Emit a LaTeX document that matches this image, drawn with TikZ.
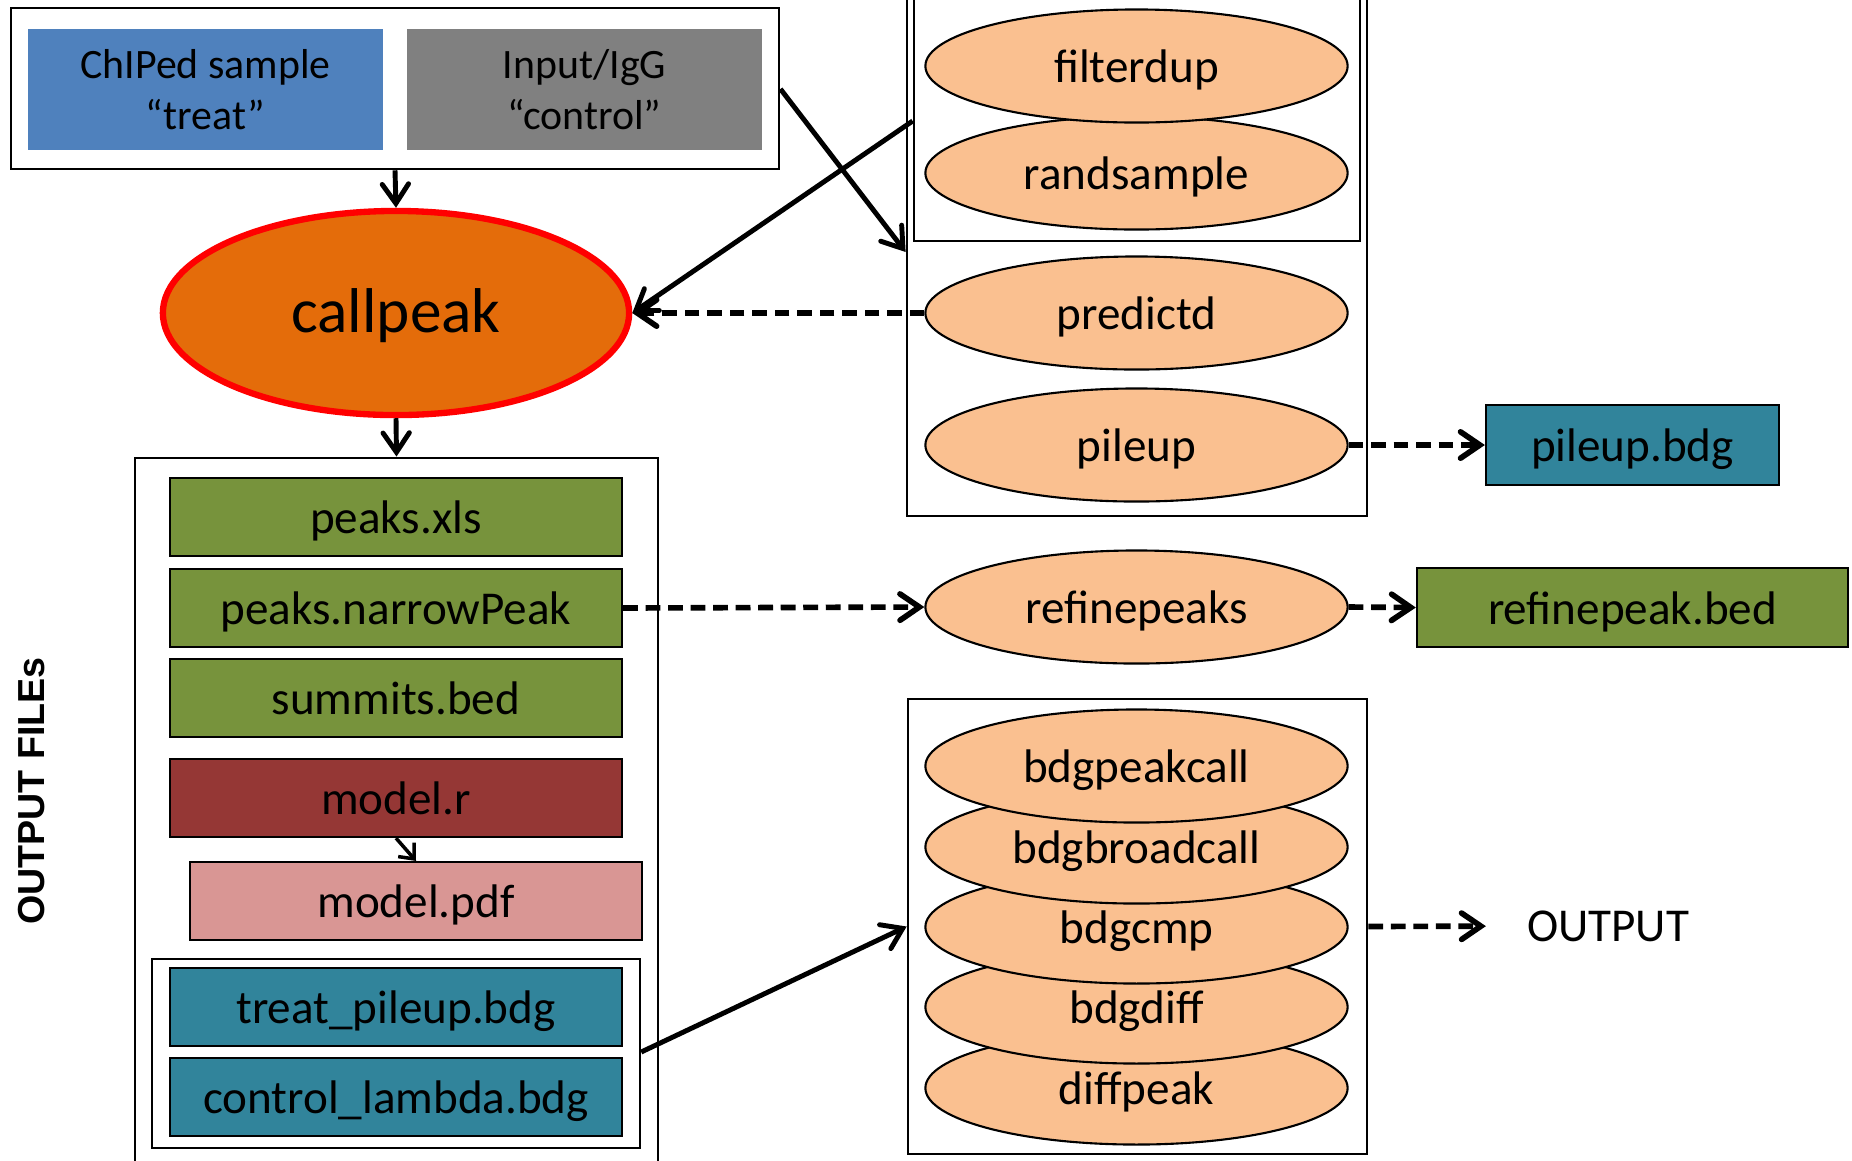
\documentclass[tikz,border=0pt]{standalone}
\usepackage{fontspec}
\setmainfont{Carlito}
\newfontfamily\boldsans{Liberation Sans}
\usetikzlibrary{shapes.geometric,arrows.meta}
\definecolor{cblue}{HTML}{4F81BD}
\definecolor{cgray}{HTML}{808080}
\definecolor{corange}{HTML}{E46C0A}
\definecolor{cred}{HTML}{FF0000}
\definecolor{cpeach}{HTML}{FAC090}
\definecolor{cgreen}{HTML}{77933C}
\definecolor{cdarkred}{HTML}{953735}
\definecolor{cpink}{HTML}{D99694}
\definecolor{cteal}{HTML}{31849B}
\tikzset{
  frame/.style={draw=black, line width=0.7pt, inner sep=0pt},
  filebox/.style={draw=black, line width=0.6pt, minimum width=4.52cm, minimum height=0.78cm, inner sep=0pt, text height=9.7pt, text depth=0.2pt, font=\fontsize{13.4}{16}\selectfont},
  inbox/.style={minimum width=3.55cm, minimum height=1.21cm, inner sep=0pt, align=center, font=\fontsize{11.9}{14.3}\selectfont},
  proc/.style={ellipse, draw=black, line width=0.6pt, fill=cpeach, minimum width=4.22cm, minimum height=1.13cm, inner sep=0pt, text height=9.7pt, text depth=0.2pt, font=\fontsize{13.4}{16}\selectfont},
  tip/.style={-{Straight Barb[length=5.5pt,width=7.5pt,line cap=round]}},
  solidarrow/.style={line width=1.4pt, tip},
  dasharrow/.style={line width=1.6pt, dash pattern=on 4.2pt off 2.2pt, tip}
}
\begin{document}
\begin{tikzpicture}[x=0.01cm, y=-0.01cm]
\clip (0,0) rectangle (1852,1160);
\fill[white] (0,0) rectangle (1852,1160);

% top input box
\node[frame, minimum width=7.68cm, minimum height=1.61cm] (topbox) at (395,88.5) {};
\node[inbox, fill=cblue] (treat) at (205.5,89.5) {ChIPed sample\\“treat”};
\node[inbox, fill=cgray] (control) at (584.5,89.5) {Input/IgG\\“control”};

% callpeak
\node[ellipse, draw=cred, line width=1.8pt, fill=corange, minimum width=4.66cm, minimum height=2.04cm, inner sep=0pt, text height=11pt, text depth=0.2pt, font=\fontsize{18}{21}\selectfont] (callpeak) at (396,313) {callpeak};

% output files container
\node[frame, minimum width=5.23cm, minimum height=7.60cm] (outbox) at (396.5,838) {};
\node[filebox, fill=cgreen] (xls) at (396,517) {peaks.xls};
\node[filebox, fill=cgreen] (narrow) at (396,608) {peaks.narrowPeak};
\node[filebox, fill=cgreen] (summits) at (396,698) {summits.bed};
\node[filebox, fill=cdarkred] (modelr) at (396,798) {model.r};
\node[filebox, fill=cpink] (modelpdf) at (416,901) {model.pdf};
\node[frame, line width=0.6pt, minimum width=4.88cm, minimum height=1.89cm] (bdgbox) at (396,1053.5) {};
\node[filebox, fill=cteal] (tpile) at (396,1007) {treat\_pileup.bdg};
\node[filebox, fill=cteal] (clam) at (396,1097) {control\_lambda.bdg};

\node[rotate=90, font=\boldsans\bfseries\fontsize{10.7}{13}\selectfont] (outfiles) at (32,791) {OUTPUT FILEs};

% upper right containers
\node[frame, minimum width=4.60cm, minimum height=5.56cm] (upbox) at (1137,238) {};
\node[frame, minimum width=4.46cm, minimum height=2.81cm] (prebox) at (1137,100.5) {};
\node[proc] (randsample) at (1136.5,173) {randsample};
\node[proc] (filterdup) at (1136.5,66) {filterdup};
\node[proc] (predictd) at (1136.5,313) {predictd};
\node[proc] (pileup) at (1136.5,445) {pileup};
\node[filebox, fill=cteal, minimum width=2.93cm, minimum height=0.80cm] (pileupbdg) at (1632.5,445) {pileup.bdg};

\node[proc] (refinepeaks) at (1136.5,607) {refinepeaks};
\node[filebox, fill=cgreen, minimum width=4.31cm, minimum height=0.79cm] (refinebed) at (1632.5,607.5) {refinepeak.bed};

% lower right container
\node[frame, minimum width=4.59cm, minimum height=4.55cm] (lowbox) at (1137.5,926.5) {};
\node[proc] (diffpeak) at (1136.5,1088) {diffpeak};
\node[proc] (bdgdiff) at (1136.5,1007) {bdgdiff};
\node[proc] (bdgcmp) at (1136.5,927) {bdgcmp};
\node[proc] (bdgbroadcall) at (1136.5,847) {bdgbroadcall};
\node[proc] (bdgpeakcall) at (1136.5,766) {bdgpeakcall};
\node[font=\fontsize{13.4}{16}\selectfont, inner sep=0pt] (output) at (1608,926) {OUTPUT};

% connectors
\draw[solidarrow] (topbox.south) -- (callpeak.north);
\draw[solidarrow] (callpeak.south) -- (outbox.north);
\draw[solidarrow] (topbox.east |- 0,89) -- (upbox.west |- 0,252);
\draw[solidarrow] (prebox.west |- 0,121) -- (callpeak.east);
\draw[dasharrow] (predictd.west) -- (callpeak.east);
\draw[dasharrow] (pileup.east) -- (pileupbdg.west);
\draw[dasharrow] (narrow.east) -- (refinepeaks.west);
\draw[dasharrow] (refinepeaks.east) -- (refinebed.west);
\draw[dasharrow, shorten >=11.5pt] (lowbox.east) -- (output.west);
\draw[solidarrow] (bdgbox.east |- 0,1052) -- (lowbox.west);
\draw[line width=1pt, -{Straight Barb[length=3.5pt,width=6pt]}] (modelr.south) -- (modelpdf.north);
\end{tikzpicture}
\end{document}
